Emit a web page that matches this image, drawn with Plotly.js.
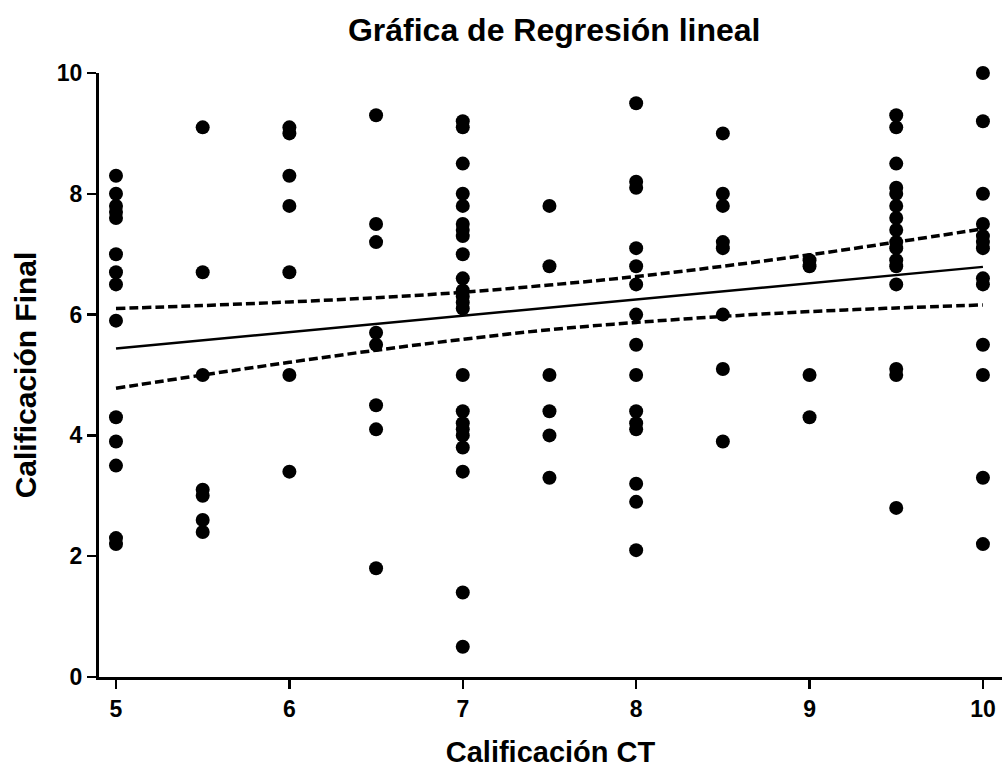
<!DOCTYPE html>
<html>
<head>
<meta charset="utf-8">
<script src="https://cdn.plot.ly/plotly-3.0.1.min.js"></script>
<style>html,body{margin:0;padding:0;background:#fff;}#chart{width:1004px;height:773px;}</style>
</head>
<body>
<div id="chart"></div>
<script>
// Calificación CT groups and the Calificación Final values read at each
const ctValues = [5, 5.5, 6, 6.5, 7, 7.5, 8, 8.5, 9, 9.5, 10];
const final_5   = [8.3, 8.0, 7.8, 7.7, 7.6, 7.0, 6.7, 6.5, 5.9, 4.3, 3.9, 3.5, 2.3, 2.2];
const final_5_5 = [9.1, 6.7, 5.0, 3.1, 3.0, 2.6, 2.4];
const final_6   = [9.1, 9.0, 8.3, 7.8, 6.7, 5.0, 3.4];
const final_6_5 = [9.3, 7.5, 7.2, 5.7, 5.5, 4.5, 4.1, 1.8];
const final_7   = [9.2, 9.1, 8.5, 8.0, 7.8, 7.5, 7.4, 7.3, 7.0, 6.6, 6.4, 6.3, 6.2, 6.1, 5.0, 4.4, 4.2, 4.1, 4.0, 3.8, 3.4, 1.4, 0.5];
const final_7_5 = [7.8, 6.8, 5.0, 4.4, 4.0, 3.3];
const final_8   = [9.5, 8.2, 8.1, 7.1, 6.8, 6.5, 6.0, 5.5, 5.0, 4.4, 4.2, 4.1, 3.2, 2.9, 2.1];
const final_8_5 = [9.0, 8.0, 7.8, 7.2, 7.1, 6.0, 5.1, 3.9];
const final_9   = [6.9, 6.8, 5.0, 4.3];
const final_9_5 = [9.3, 9.1, 8.5, 8.1, 8.0, 7.8, 7.6, 7.4, 7.2, 7.1, 6.9, 6.8, 6.5, 5.1, 5.0, 2.8];
const final_10  = [10.0, 9.2, 8.0, 7.5, 7.3, 7.2, 7.1, 6.6, 6.5, 5.5, 5.0, 3.3, 2.2];
const finalGroups = [final_5, final_5_5, final_6, final_6_5, final_7, final_7_5, final_8, final_8_5, final_9, final_9_5, final_10];

// Regression line and 95% confidence band
const fitX = [5, 10];
const fitY = [5.44, 6.79];
const bandX     = [5, 5.5, 6, 6.5, 7, 7.5, 8, 8.5, 9, 9.5, 10];
const bandUpper = [6.10, 6.15, 6.21, 6.28, 6.37, 6.49, 6.63, 6.80, 6.99, 7.20, 7.42];
const bandLower = [4.78, 5.00, 5.21, 5.41, 5.59, 5.75, 5.87, 5.97, 6.05, 6.11, 6.16];

const xTicks = [5, 6, 7, 8, 9, 10];
const yTicks = [0, 2, 4, 6, 8, 10];

const px = [], py = [];
ctValues.forEach((c, i) => finalGroups[i].forEach(v => { px.push(c); py.push(v); }));

const FONT = 'Liberation Sans, Arial, sans-serif';

const traces = [
  { x: px, y: py, type: 'scatter', mode: 'markers',
    marker: { color: '#000', size: 14, line: { width: 0 } }, cliponaxis: false, showlegend: false },
  { x: fitX, y: fitY, type: 'scatter', mode: 'lines',
    line: { color: '#000', width: 2.5 }, showlegend: false },
  { x: bandX, y: bandUpper, type: 'scatter', mode: 'lines', line: { color: '#000', width: 3.5, dash: '9px,4px', shape: 'spline' }, showlegend: false },
  { x: bandX, y: bandLower, type: 'scatter', mode: 'lines', line: { color: '#000', width: 3.5, dash: '9px,4px', shape: 'spline' }, showlegend: false }
];

const layout = {
  width: 1004, height: 773,
  margin: { l: 99, r: 2, t: 73, b: 96 },
  paper_bgcolor: '#fff', plot_bgcolor: '#fff',
  showlegend: false,
  title: { text: 'Gráfica de Regresión lineal', x: 0.552, xanchor: 'center', y: 0.961, yanchor: 'middle',
           font: { family: FONT, size: 32, weight: 700, color: '#000' } },
  xaxis: {
    range: [4.902, 10.11], tickvals: xTicks, ticktext: xTicks.map(String),
    showgrid: false, zeroline: false, showline: true, linecolor: '#000', linewidth: 3,
    ticks: 'outside', ticklen: 9, tickwidth: 2.5, tickcolor: '#000',
    tickfont: { family: FONT, size: 23, weight: 700, color: '#000' },
    title: { text: 'Calificación CT', standoff: 22, font: { family: FONT, size: 29, weight: 700, color: '#000' } }
  },
  yaxis: {
    range: [0, 10], tickvals: yTicks, ticktext: yTicks.map(String),
    showgrid: false, zeroline: false, showline: true, linecolor: '#000', linewidth: 3,
    ticks: 'outside', ticklen: 9, tickwidth: 2.5, tickcolor: '#000',
    tickfont: { family: FONT, size: 23, weight: 700, color: '#000' },
    title: { text: 'Calificación Final', standoff: 12, font: { family: FONT, size: 30, weight: 700, color: '#000' } }
  }
};

Plotly.newPlot('chart', traces, layout, { displayModeBar: false, staticPlot: true });
</script>
</body>
</html>
